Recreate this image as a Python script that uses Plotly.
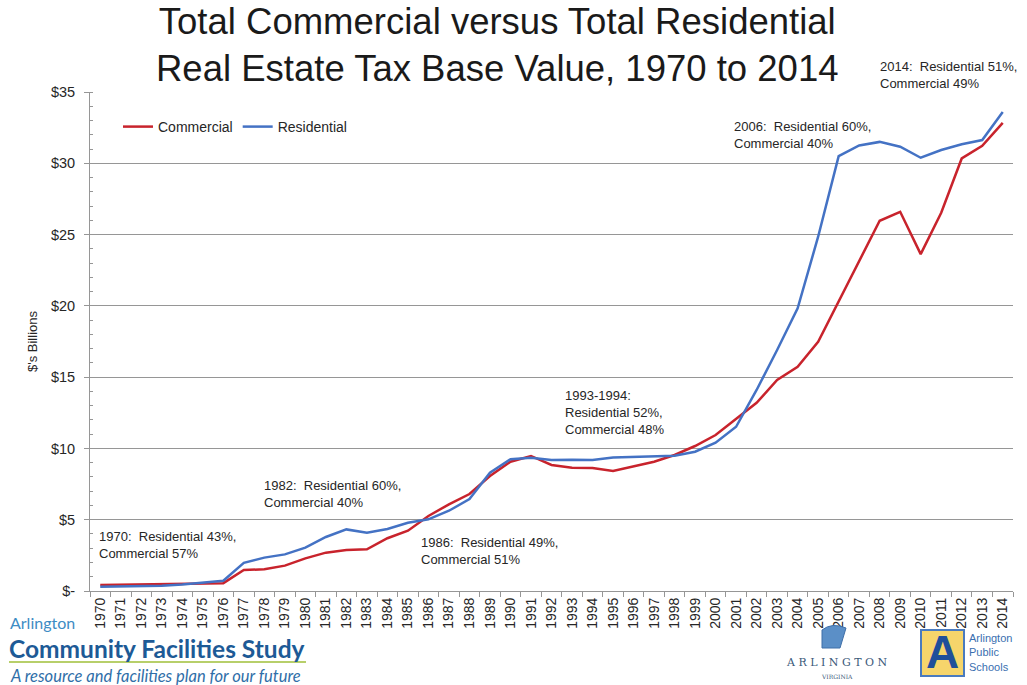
import plotly.graph_objects as go

# ---- data ($ billions) ----
years = [str(y) for y in range(1970, 2015)]
commercial = [0.42, 0.44, 0.46, 0.49, 0.52, 0.56, 0.55, 1.47, 1.52, 1.78,
              2.29, 2.69, 2.87, 2.92, 3.70, 4.23, 5.26, 6.08, 6.80, 8.06,
              9.07, 9.47, 8.84, 8.65, 8.63, 8.42, 8.77, 9.07, 9.54, 10.17,
              10.94, 12.08, 13.20, 14.80, 15.73, 17.48, 20.29, 23.10, 25.97, 26.60,
              23.63, 26.53, 30.34, 31.23, 32.84]
residential = [0.30, 0.32, 0.34, 0.37, 0.45, 0.56, 0.72, 1.98, 2.34, 2.57,
               3.04, 3.79, 4.32, 4.09, 4.35, 4.79, 5.03, 5.63, 6.45, 8.30,
               9.24, 9.35, 9.19, 9.21, 9.19, 9.37, 9.42, 9.47, 9.49, 9.77,
               10.40, 11.52, 14.10, 16.90, 19.82, 24.85, 30.50, 31.25, 31.50, 31.16,
               30.39, 30.93, 31.33, 31.63, 33.60]
y_ticks = [0, 5, 10, 15, 20, 25, 30, 35]
y_labels = ["$-", "$5", "$10", "$15", "$20", "$25", "$30", "$35"]

notes = [
    ("2014:\u00a0 Residential 51%,<br>Commercial 49%", 878, 57),
    ("2006:\u00a0 Residential 60%,<br>Commercial 40%", 732, 117),
    ("1993-1994:<br>Residential 52%,<br>Commercial 48%", 563, 386),
    ("1982:\u00a0 Residential 60%,<br>Commercial 40%", 262, 476),
    ("1970:\u00a0 Residential 43%,<br>Commercial 57%", 97, 527),
    ("1986:\u00a0 Residential 49%,<br>Commercial 51%", 419, 533),
]
title_text = ("Total Commercial versus Total Residential<br>"
              "Real Estate Tax Base Value, 1970 to 2014")

W, H = 1027, 685
L, R, T, B = 90, 14, 92, 94
PW, PH = W - L - R, H - T - B


def px(x):
    return (x - L) / PW


def py(y):
    return (H - B - y) / PH


FONT = "Liberation Sans, Arial, sans-serif"
BRAND = "Lato, Liberation Sans, sans-serif"
RED = "#C8232C"
BLUE = "#4472C4"
GRID = "#969696"

fig = go.Figure()
fig.add_trace(go.Scatter(x=years, y=commercial, name="Commercial", mode="lines",
                         line=dict(color=RED, width=2.5)))
fig.add_trace(go.Scatter(x=years, y=residential, name="Residential", mode="lines",
                         line=dict(color=BLUE, width=2.5)))

annotations = []
for text, x, y in notes:
    annotations.append(dict(text=text, x=px(x), y=py(y), xref="paper", yref="paper",
                            xanchor="left", yanchor="top", showarrow=False, align="left",
                            font=dict(family=FONT, size=13, color="#262626")))

# Two-line title
annotations.append(dict(text=title_text, x=px(497), y=py(0), xref="paper", yref="paper",
                        xanchor="center", yanchor="top", showarrow=False, align="center",
                        borderpad=0,
                        font=dict(family=FONT, size=36.5, color="#1a1a1a")))

# Footer branding (left)
annotations += [
    dict(text="Arlington", x=px(9), y=py(612), xref="paper", yref="paper",
         xanchor="left", yanchor="top", showarrow=False, borderpad=0,
         font=dict(family=BRAND, size=16, color="#3d8cc4")),
    dict(text="<b>Community Facilities Study</b>", x=px(8), y=py(633), xref="paper", yref="paper",
         xanchor="left", yanchor="top", showarrow=False, borderpad=0,
         font=dict(family=BRAND, size=24.5, color="#1d5a96")),
    dict(text="<i>A resource and facilities plan for our future</i>", x=px(9), y=py(665),
         xref="paper", yref="paper", xanchor="left", yanchor="top", showarrow=False,
         borderpad=0,
         font=dict(family=BRAND, size=16.5, color="#2f6ea8")),
    # Arlington Virginia mark
    dict(text="A R L I N G T O N", x=px(837), y=py(654), xref="paper", yref="paper",
         xanchor="center", yanchor="top", showarrow=False,
         font=dict(family="DejaVu Serif, serif", size=11, color="#3b5a7a")),
    dict(text="VIRGINIA", x=px(837), y=py(671), xref="paper", yref="paper",
         xanchor="center", yanchor="top", showarrow=False,
         font=dict(family="DejaVu Serif, serif", size=6, color="#3b5a7a")),
    # Arlington Public Schools mark
    dict(text="<b>A</b>", x=px(942), y=py(652), xref="paper", yref="paper",
         xanchor="center", yanchor="middle", showarrow=False,
         font=dict(family="Liberation Sans, sans-serif", size=46, color="#1f4f9a")),
    dict(text="Arlington<br>Public<br>Schools", x=px(967), y=py(630), xref="paper", yref="paper",
         xanchor="left", yanchor="top", showarrow=False, align="left",
         font=dict(family="Liberation Sans Narrow, Liberation Sans, sans-serif", size=11,
                   color="#3a6fb0")),
]

shapes = [
    # green rule under the study name
    dict(type="line", xref="paper", yref="paper", x0=px(9), x1=px(306), y0=py(662), y1=py(662),
         line=dict(color="#b7cf6a", width=2)),
    # schools logo square
    dict(type="rect", xref="paper", yref="paper", x0=px(921), x1=px(964), y0=py(630), y1=py(676),
         fillcolor="#f6d56b", line=dict(color="#4a7bbf", width=2), layer="below"),
    # county building mark
    dict(type="path", xref="paper", yref="paper",
         path=f"M {px(822)},{py(648)} L {px(822)},{py(630)} Q {px(832)},{py(622)} {px(846)},{py(628)} "
              f"L {px(840)},{py(648)} Z",
         fillcolor="#5b8fc7", line=dict(color="#3f6fa8", width=1)),
]

fig.update_layout(
    width=W, height=H,
    margin=dict(l=L, r=R, t=T, b=B),
    paper_bgcolor="white", plot_bgcolor="white",
    font=dict(family=FONT, size=14, color="#262626"),
    showlegend=True,
    legend=dict(orientation="h", x=px(118), y=py(111), xanchor="left", yanchor="top",
                bgcolor="rgba(0,0,0,0)", font=dict(family=FONT, size=14, color="#262626"),
                itemwidth=30, tracegroupgap=0),
    annotations=annotations,
    shapes=shapes,
    xaxis=dict(type="category", range=[-0.5, 44.5], tickangle=-90,
               tickson="boundaries", ticks="outside", ticklen=5, tickcolor=GRID,
               showline=True, linecolor=GRID, linewidth=1, showgrid=False,
               tickfont=dict(family=FONT, size=14, color="#262626"), fixedrange=True),
    yaxis=dict(range=[0, 35], tickvals=y_ticks, ticktext=y_labels,
               ticks="outside", ticklen=5, tickcolor=GRID, ticklabelstandoff=6,
               showline=True, linecolor=GRID, linewidth=1,
               showgrid=True, gridcolor=GRID, gridwidth=1, zeroline=False,
               minor=dict(dtick=1, ticks="inside", ticklen=3, tickcolor=GRID, showgrid=False),
               tickfont=dict(family=FONT, size=14.5, color="#262626"),
               title=dict(text="$'s Billions", font=dict(family=FONT, size=13, color="#262626"),
                          standoff=10)),
)

fig.write_html("out.html")
